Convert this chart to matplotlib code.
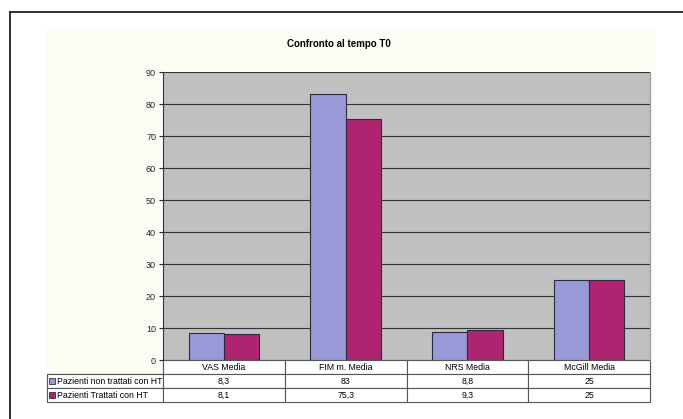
import numpy as np
import matplotlib
matplotlib.use("Agg")
import matplotlib.pyplot as plt
from matplotlib.patches import Rectangle
from matplotlib.lines import Line2D

categories = ["VAS Media", "FIM m. Media", "NRS Media", "McGill Media"]
series_names = ["Pazienti non trattati con HT", "Pazienti Trattati con HT"]
non_trattati = [8.3, 83, 8.8, 25]
trattati = [8.1, 75.3, 9.3, 25]
non_trattati_txt = ["8,3", "83", "8,8", "25"]
trattati_txt = ["8,1", "75,3", "9,3", "25"]
title = "Confronto al tempo T0"

W, H = 683, 419
plt.rcParams["font.family"] = ["Liberation Sans", "DejaVu Sans"]


def fx(x):
    return x / W


def fy(y):
    return 1 - y / H


fig = plt.figure(figsize=(W / 100, H / 100), dpi=100)
fig.patch.set_facecolor("white")

# cornice esterna (tagliata a destra e in basso)
fig.add_artist(Line2D([fx(10), fx(10)], [fy(12), fy(419)], color="#222222", lw=1.3))
fig.add_artist(Line2D([fx(10), fx(683)], [fy(12), fy(12)], color="#222222", lw=1.3))

# area del grafico
fig.add_artist(Rectangle((fx(46), fy(405)), fx(655) - fx(46), fy(30) - fy(405),
                         transform=fig.transFigure, facecolor="#fcfcf5",
                         edgecolor="none", zorder=0))

L, R, T, B = 163, 650, 72, 360
ax = fig.add_axes([fx(L), fy(B), fx(R) - fx(L), fy(T) - fy(B)])
ax.set_facecolor("#c0c0c0")

x = np.arange(len(categories))
w = 0.29
ax.bar(x - w / 2, non_trattati, w, color="#9999d8", edgecolor="#2a2a40", lw=0.8, zorder=3)
ax.bar(x + w / 2, trattati, w, color="#ae2470", edgecolor="#2a2a40", lw=0.8, zorder=3)

ax.set_xlim(-0.5, len(categories) - 0.5)
ax.set_ylim(0, 90)
ax.set_yticks(np.arange(0, 91, 10))
ax.yaxis.grid(True, color="#333333", lw=0.8, zorder=1)
ax.set_axisbelow(True)
ax.set_xticks([])
ax.tick_params(axis="y", length=3, width=0.8, labelsize=6.5, pad=2, colors="#222222")
for s in ["top", "bottom"]:
    ax.spines[s].set_visible(False)
ax.spines["left"].set_color("#333333")
ax.spines["right"].set_color("#999999")

fig.text(fx(339), fy(44), title, fontsize=7, fontweight="bold", ha="center", va="center")

# tabella dati
cell_text = [[""] + categories,
             [series_names[0]] + non_trattati_txt,
             [series_names[1]] + trattati_txt]
label_w = L - 47
cat_w = (R - L) / len(categories)
tot_w = label_w + cat_w * len(categories)
tbl = ax.table(cellText=cell_text,
               colWidths=[label_w / tot_w] + [cat_w / tot_w] * len(categories),
               bbox=[(47 - L) / (R - L), -(402 - B) / (B - T), tot_w / (R - L), (402 - B) / (B - T)],
               cellLoc="center")
tbl.auto_set_font_size(False)
for (r, c), cell in tbl.get_celld().items():
    cell.set_fontsize(6.3)
    cell.set_linewidth(0.8)
    cell.set_edgecolor("#555555")
    cell.set_facecolor("white")
    if r == 0 and c == 0:
        cell.visible_edges = "BR"
        cell.set_facecolor("none")
    if c == 0 and r > 0:
        cell.get_text().set_ha("left")
        cell.PAD = 0.09

# quadratini della legenda
colors = ["#9999d8", "#ae2470"]
for i, col in enumerate(colors):
    yc = 381 + i * 14
    ax.add_patch(Rectangle(((49 - L) / (R - L), -(yc + 3 - B) / (B - T)),
                           6 / (R - L), 6 / (B - T), transform=ax.transAxes,
                           facecolor=col, edgecolor="#333333", lw=0.6, clip_on=False, zorder=5))

fig.savefig("out.png", dpi=100)
